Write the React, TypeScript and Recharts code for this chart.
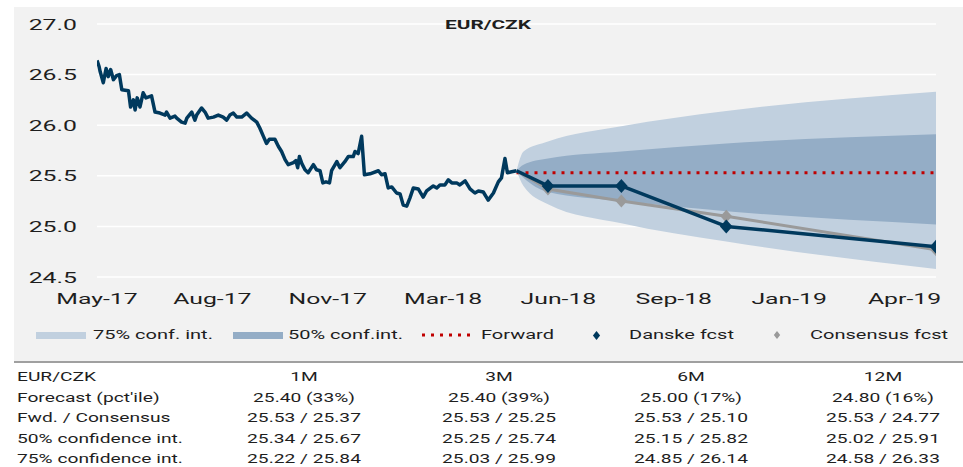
import React from "react";
import { ComposedChart, Area, Line, XAxis, YAxis, CartesianGrid } from "recharts";

// EUR/CZK history + Danske/consensus forecast fan, with summary table below

const FONT = "Roboto, 'DejaVu Sans', sans-serif";
const SX = 1.6; // the source chart is stretched horizontally, so is all text
const NAVY = "#00395D";
const GREY = "#9A9A9A";
const RED = "#C00000";
const CI75 = "#C1D0DF";
const CI50 = "#94ADC6";
const TEXT = "#1E1E1E";

// x axis is in months since the start of the history
const xTicks = [0, 3.3, 6.6, 9.9, 13.2, 16.5, 19.8, 23.1];
const xTickLabels = ["May-17", "Aug-17", "Nov-17", "Mar-18", "Jun-18", "Sep-18", "Jan-19", "Apr-19"];
const yTicks = [24.5, 25, 25.5, 26, 26.5, 27];

const histMonths = [
  0.0, 0.06, 0.09, 0.18, 0.26, 0.32, 0.39, 0.47, 0.56, 0.64,
  0.71, 0.9, 0.96, 1.04, 1.09, 1.15, 1.23, 1.32, 1.4, 1.56,
  1.66, 1.8, 1.95, 1.99, 2.09, 2.23, 2.28, 2.42, 2.52, 2.57,
  2.71, 2.8, 2.85, 2.99, 3.09, 3.18, 3.33, 3.47, 3.61, 3.71,
  3.8, 3.9, 4.0, 4.14, 4.28, 4.42, 4.57, 4.66, 4.76, 4.85,
  4.93, 5.09, 5.19, 5.28, 5.38, 5.47, 5.62, 5.69, 5.74, 5.79,
  5.86, 5.95, 6.04, 6.19, 6.28, 6.38, 6.46, 6.55, 6.65, 6.71,
  6.86, 6.95, 7.09, 7.19, 7.33, 7.38, 7.47, 7.57, 7.65, 7.81,
  8.05, 8.14, 8.24, 8.33, 8.43, 8.57, 8.67, 8.76, 8.86, 8.95,
  9.05, 9.19, 9.33, 9.43, 9.62, 9.72, 9.81, 9.95, 10.05, 10.15,
  10.29, 10.38, 10.53, 10.67, 10.81, 10.91, 11.05, 11.19, 11.34, 11.48,
  11.57, 11.67, 11.74, 11.86, 12.0,
];
const histValues = [
  26.64, 26.58, 26.53, 26.42, 26.56, 26.48, 26.55, 26.45, 26.49, 26.5,
  26.35, 26.34, 26.18, 26.25, 26.15, 26.27, 26.18, 26.32, 26.27, 26.29,
  26.13, 26.12, 26.1, 26.13, 26.07, 26.09, 26.07, 26.03, 26.02, 26.07,
  26.13, 26.05, 26.1, 26.17, 26.13, 26.07, 26.08, 26.1, 26.08, 26.05,
  26.1, 26.12, 26.08, 26.08, 26.12, 26.07, 26.03, 25.97, 25.89, 25.82,
  25.86, 25.86, 25.79, 25.74, 25.66, 25.61, 25.63, 25.65, 25.58, 25.69,
  25.62, 25.56, 25.53, 25.61, 25.56, 25.55, 25.43, 25.44, 25.43, 25.55,
  25.64, 25.58, 25.64, 25.69, 25.69, 25.74, 25.72, 25.89, 25.51, 25.52,
  25.55, 25.51, 25.52, 25.38, 25.39, 25.33, 25.32, 25.21, 25.2, 25.28,
  25.38, 25.37, 25.29, 25.35, 25.4, 25.38, 25.41, 25.41, 25.46, 25.43,
  25.43, 25.41, 25.45, 25.37, 25.33, 25.35, 25.34, 25.26, 25.33, 25.44,
  25.48, 25.67, 25.53, 25.54, 25.55,
];

const spotMonth = 12.0;
const spotRate = 25.55;

const horizons = ["1M", "3M", "6M", "12M"];
const horizonMonths = [12.9, 15, 18, 24];
const danskeFcst = [25.4, 25.4, 25.0, 24.8];
const pctile = [33, 39, 17, 16];
const forward = [25.53, 25.53, 25.53, 25.53];
const consensus = [25.37, 25.25, 25.1, 24.77];
const ci50Low = [25.34, 25.25, 25.15, 25.02];
const ci50High = [25.67, 25.74, 25.82, 25.91];
const ci75Low = [25.22, 25.03, 24.85, 24.58];
const ci75High = [25.84, 25.99, 26.14, 26.33];

const fanNearMonth = 12.2;
const fanNear75 = [25.4, 25.74];
const fanNear50 = [25.48, 25.61];

const histData = histMonths.map((m, i) => ({ m, v: histValues[i] }));

const withSpot = (vals: number[], start = spotRate) => [
  { m: spotMonth, v: start },
  ...horizonMonths.map((m, i) => ({ m, v: vals[i] })),
];
const danskeData = withSpot(danskeFcst);
const consensusData = withSpot(consensus);
const forwardData = withSpot(forward, forward[0]);

const bandData = [
  { m: spotMonth, r75: [spotRate, spotRate], r50: [spotRate, spotRate] },
  { m: fanNearMonth, r75: fanNear75, r50: fanNear50 },
  ...horizonMonths.map((m, i) => ({
    m,
    r75: [ci75Low[i], ci75High[i]],
    r50: [ci50Low[i], ci50High[i]],
  })),
];

const fmt = (v: number) => v.toFixed(2);

const XTick = (props: any) => {
  const { x, y, index } = props;
  return (
    <g transform={`translate(${x},${y}) scale(${SX},1)`}>
      <text x={0} y={0} dy="0.355em" textAnchor="middle" fontFamily={FONT} fontSize={15.5} fill={TEXT}>
        {xTickLabels[index]}
      </text>
    </g>
  );
};

const YTick = (props: any) => {
  const { x, y, payload } = props;
  return (
    <g transform={`translate(${x},${y}) scale(${SX},1)`}>
      <text x={0} y={0} dy="0.355em" textAnchor="end" fontFamily={FONT} fontSize={15.5} fill={TEXT}>
        {Number(payload.value).toFixed(1)}
      </text>
    </g>
  );
};

const diamond = (color: string, r: number) => (props: any) => {
  const { cx, cy, index } = props;
  if (index === 0 || cx == null || cy == null) return <g key={`d${index}`} />;
  return (
    <path
      key={`d${index}`}
      d={`M${cx},${cy - r}L${cx + r * 0.9},${cy}L${cx},${cy + r}L${cx - r * 0.9},${cy}Z`}
      fill={color}
    />
  );
};

function Txt({
  x,
  y,
  align = "left",
  size = 12,
  weight = 400,
  children,
}: {
  x: number;
  y: number;
  align?: "left" | "center";
  size?: number;
  weight?: number;
  children: React.ReactNode;
}) {
  return (
    <div
      style={{
        position: "absolute",
        left: x,
        top: y - 10,
        height: 20,
        lineHeight: "20px",
        fontFamily: FONT,
        fontSize: size,
        fontWeight: weight,
        color: TEXT,
        whiteSpace: "nowrap",
        transform: align === "center" ? `translateX(-50%) scaleX(${SX})` : `scaleX(${SX})`,
        transformOrigin: align === "center" ? "50% 50%" : "0 50%",
      }}
    >
      {children}
    </div>
  );
}

const Diamond = ({ x, y, color, r }: { x: number; y: number; color: string; r: number }) => (
  <svg style={{ position: "absolute", left: x - r, top: y - r }} width={r * 2} height={r * 2}>
    <path d={`M${r},0L${r * 1.8},${r}L${r},${r * 2}L${r * 0.2},${r}Z`} fill={color} />
  </svg>
);

const colCenters = [304, 499, 691, 883];
const rowCenters = [377, 397.5, 418, 438.5, 459];
const rowLabels = ["EUR/CZK", "Forecast (pct'ile)", "Fwd. / Consensus", "50% confidence int.", "75% confidence int."];
const rowCells = [
  horizons,
  danskeFcst.map((v, i) => `${fmt(v)} (${pctile[i]}%)`),
  forward.map((v, i) => `${fmt(v)} / ${fmt(consensus[i])}`),
  ci50Low.map((v, i) => `${fmt(v)} / ${fmt(ci50High[i])}`),
  ci75Low.map((v, i) => `${fmt(v)} / ${fmt(ci75High[i])}`),
];

export default function App() {
  const legendY = 335;
  return (
    <div style={{ position: "absolute", left: 0, top: 0, width: 963, height: 467, background: "#fff", overflow: "hidden" }}>
      <div style={{ position: "absolute", left: 14, top: 7, width: 949, height: 355, background: "#F2F2F2" }} />

      <div style={{ position: "absolute", left: 0, top: 0 }}>
        <ComposedChart width={963} height={320} margin={{ top: 24, right: 27, bottom: 13, left: 0 }}>
          <CartesianGrid vertical={false} stroke="#FFFFFF" strokeWidth={1.5} />
          <XAxis
            dataKey="m"
            type="number"
            domain={[0, 24]}
            ticks={xTicks}
            interval={0}
            allowDataOverflow
            axisLine={false}
            tickLine={false}
            tickMargin={15.5}
            height={30}
            tick={<XTick />}
          />
          <YAxis
            type="number"
            domain={[24.5, 27]}
            ticks={yTicks}
            interval={0}
            allowDataOverflow
            width={97}
            axisLine={false}
            tickLine={false}
            tickMargin={14}
            tick={<YTick />}
          />
          <Area data={bandData} dataKey="r75" type="monotone" stroke="none" fill={CI75} fillOpacity={1} isAnimationActive={false} />
          <Area data={bandData} dataKey="r50" type="monotone" stroke="none" fill={CI50} fillOpacity={1} isAnimationActive={false} />
          <Line
            data={forwardData}
            dataKey="v"
            type="linear"
            stroke={RED}
            strokeWidth={3}
            strokeDasharray="3 6"
            dot={false}
            isAnimationActive={false}
          />
          <Line
            data={histData}
            dataKey="v"
            type="linear"
            stroke={NAVY}
            strokeWidth={3.5}
            strokeLinejoin="round"
            dot={false}
            isAnimationActive={false}
          />
          <Line
            data={consensusData}
            dataKey="v"
            type="linear"
            stroke={GREY}
            strokeWidth={3}
            dot={diamond(GREY, 6.5)}
            activeDot={false}
            isAnimationActive={false}
          />
          <Line
            data={danskeData}
            dataKey="v"
            type="linear"
            stroke={NAVY}
            strokeWidth={3.5}
            strokeLinejoin="round"
            dot={diamond(NAVY, 7)}
            activeDot={false}
            isAnimationActive={false}
          />
        </ComposedChart>
      </div>

      <Txt x={488} y={24.5} align="center" size={13} weight={700}>EUR/CZK</Txt>

      {/* legend */}
      <div style={{ position: "absolute", left: 36, top: legendY - 3.5, width: 50, height: 7, background: CI75 }} />
      <Txt x={93} y={legendY} size={12.5}>75% conf. int.</Txt>
      <div style={{ position: "absolute", left: 233, top: legendY - 3.5, width: 50, height: 7, background: CI50 }} />
      <Txt x={288} y={legendY} size={12.5}>50% conf.int.</Txt>
      <svg style={{ position: "absolute", left: 422, top: legendY - 2 }} width={54} height={4}>
        <line x1={0} y1={2} x2={54} y2={2} stroke={RED} strokeWidth={3} strokeDasharray="3 6" />
      </svg>
      <Txt x={481} y={legendY} size={12.5}>Forward</Txt>
      <Diamond x={596} y={legendY} color={NAVY} r={4.5} />
      <Txt x={629} y={legendY} size={12.5}>Danske fcst</Txt>
      <Diamond x={777} y={legendY} color={GREY} r={4} />
      <Txt x={810} y={legendY} size={12.5}>Consensus fcst</Txt>

      <div style={{ position: "absolute", left: 14, top: 361, width: 949, height: 2, background: "#A0A0A0" }} />

      {/* table */}
      {rowLabels.map((label, r) => (
        <React.Fragment key={label}>
          <Txt x={17} y={rowCenters[r]} size={12}>{label}</Txt>
          {rowCells[r].map((cell, c) => (
            <Txt key={c} x={colCenters[c]} y={rowCenters[r]} align="center" size={12}>
              {cell}
            </Txt>
          ))}
        </React.Fragment>
      ))}
    </div>
  );
}
